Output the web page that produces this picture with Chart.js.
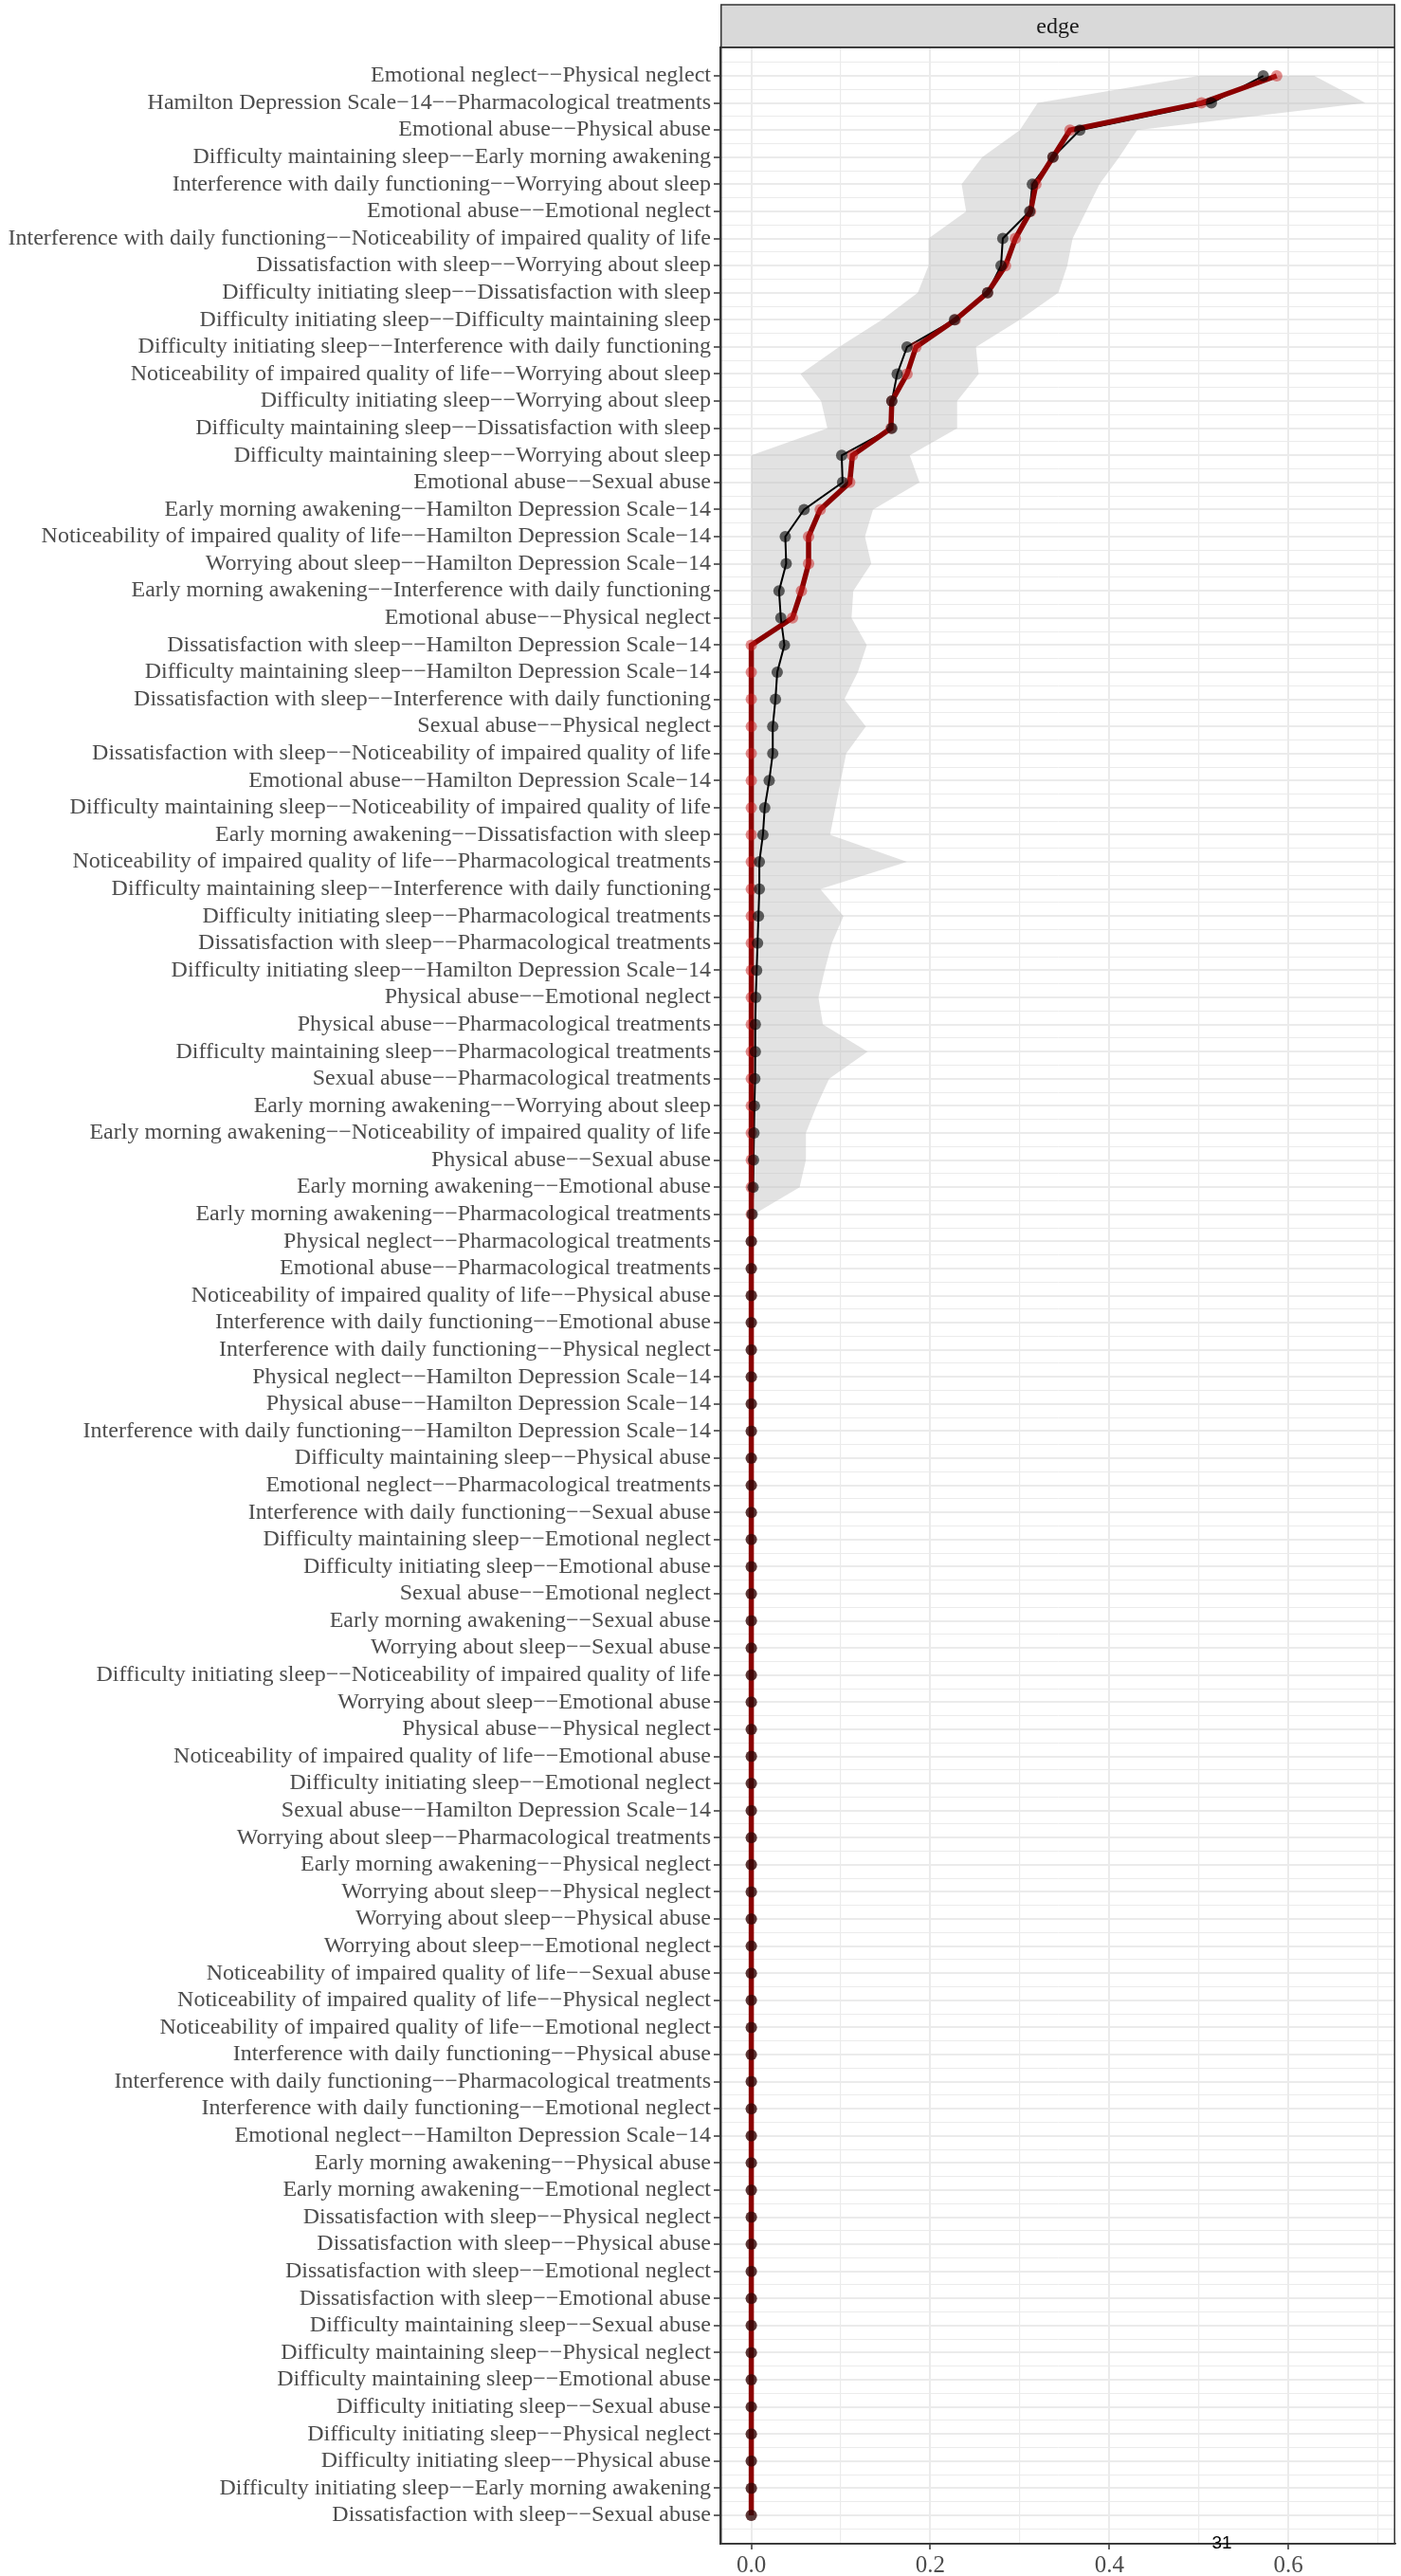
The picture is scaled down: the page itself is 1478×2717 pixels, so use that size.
<!DOCTYPE html>
<html>
<head>
<meta charset="utf-8">
<script src="https://cdn.jsdelivr.net/npm/chart.js@4.4.1/dist/chart.umd.min.js"></script>
<style>
  html, body { margin: 0; padding: 0; background: #ffffff; }
  #wrap { width: 1478px; height: 2717px; }
</style>
</head>
<body>
<div id="wrap"><canvas id="edgeChart" width="1478" height="2717"></canvas></div>
<script>
// edges, sorted by sample weight (top to bottom)
const edgeLabels = [
    'Emotional neglect−−Physical neglect',
    'Hamilton Depression Scale−14−−Pharmacological treatments',
    'Emotional abuse−−Physical abuse',
    'Difficulty maintaining sleep−−Early morning awakening',
    'Interference with daily functioning−−Worrying about sleep',
    'Emotional abuse−−Emotional neglect',
    'Interference with daily functioning−−Noticeability of impaired quality of life',
    'Dissatisfaction with sleep−−Worrying about sleep',
    'Difficulty initiating sleep−−Dissatisfaction with sleep',
    'Difficulty initiating sleep−−Difficulty maintaining sleep',
    'Difficulty initiating sleep−−Interference with daily functioning',
    'Noticeability of impaired quality of life−−Worrying about sleep',
    'Difficulty initiating sleep−−Worrying about sleep',
    'Difficulty maintaining sleep−−Dissatisfaction with sleep',
    'Difficulty maintaining sleep−−Worrying about sleep',
    'Emotional abuse−−Sexual abuse',
    'Early morning awakening−−Hamilton Depression Scale−14',
    'Noticeability of impaired quality of life−−Hamilton Depression Scale−14',
    'Worrying about sleep−−Hamilton Depression Scale−14',
    'Early morning awakening−−Interference with daily functioning',
    'Emotional abuse−−Physical neglect',
    'Dissatisfaction with sleep−−Hamilton Depression Scale−14',
    'Difficulty maintaining sleep−−Hamilton Depression Scale−14',
    'Dissatisfaction with sleep−−Interference with daily functioning',
    'Sexual abuse−−Physical neglect',
    'Dissatisfaction with sleep−−Noticeability of impaired quality of life',
    'Emotional abuse−−Hamilton Depression Scale−14',
    'Difficulty maintaining sleep−−Noticeability of impaired quality of life',
    'Early morning awakening−−Dissatisfaction with sleep',
    'Noticeability of impaired quality of life−−Pharmacological treatments',
    'Difficulty maintaining sleep−−Interference with daily functioning',
    'Difficulty initiating sleep−−Pharmacological treatments',
    'Dissatisfaction with sleep−−Pharmacological treatments',
    'Difficulty initiating sleep−−Hamilton Depression Scale−14',
    'Physical abuse−−Emotional neglect',
    'Physical abuse−−Pharmacological treatments',
    'Difficulty maintaining sleep−−Pharmacological treatments',
    'Sexual abuse−−Pharmacological treatments',
    'Early morning awakening−−Worrying about sleep',
    'Early morning awakening−−Noticeability of impaired quality of life',
    'Physical abuse−−Sexual abuse',
    'Early morning awakening−−Emotional abuse',
    'Early morning awakening−−Pharmacological treatments',
    'Physical neglect−−Pharmacological treatments',
    'Emotional abuse−−Pharmacological treatments',
    'Noticeability of impaired quality of life−−Physical abuse',
    'Interference with daily functioning−−Emotional abuse',
    'Interference with daily functioning−−Physical neglect',
    'Physical neglect−−Hamilton Depression Scale−14',
    'Physical abuse−−Hamilton Depression Scale−14',
    'Interference with daily functioning−−Hamilton Depression Scale−14',
    'Difficulty maintaining sleep−−Physical abuse',
    'Emotional neglect−−Pharmacological treatments',
    'Interference with daily functioning−−Sexual abuse',
    'Difficulty maintaining sleep−−Emotional neglect',
    'Difficulty initiating sleep−−Emotional abuse',
    'Sexual abuse−−Emotional neglect',
    'Early morning awakening−−Sexual abuse',
    'Worrying about sleep−−Sexual abuse',
    'Difficulty initiating sleep−−Noticeability of impaired quality of life',
    'Worrying about sleep−−Emotional abuse',
    'Physical abuse−−Physical neglect',
    'Noticeability of impaired quality of life−−Emotional abuse',
    'Difficulty initiating sleep−−Emotional neglect',
    'Sexual abuse−−Hamilton Depression Scale−14',
    'Worrying about sleep−−Pharmacological treatments',
    'Early morning awakening−−Physical neglect',
    'Worrying about sleep−−Physical neglect',
    'Worrying about sleep−−Physical abuse',
    'Worrying about sleep−−Emotional neglect',
    'Noticeability of impaired quality of life−−Sexual abuse',
    'Noticeability of impaired quality of life−−Physical neglect',
    'Noticeability of impaired quality of life−−Emotional neglect',
    'Interference with daily functioning−−Physical abuse',
    'Interference with daily functioning−−Pharmacological treatments',
    'Interference with daily functioning−−Emotional neglect',
    'Emotional neglect−−Hamilton Depression Scale−14',
    'Early morning awakening−−Physical abuse',
    'Early morning awakening−−Emotional neglect',
    'Dissatisfaction with sleep−−Physical neglect',
    'Dissatisfaction with sleep−−Physical abuse',
    'Dissatisfaction with sleep−−Emotional neglect',
    'Dissatisfaction with sleep−−Emotional abuse',
    'Difficulty maintaining sleep−−Sexual abuse',
    'Difficulty maintaining sleep−−Physical neglect',
    'Difficulty maintaining sleep−−Emotional abuse',
    'Difficulty initiating sleep−−Sexual abuse',
    'Difficulty initiating sleep−−Physical neglect',
    'Difficulty initiating sleep−−Physical abuse',
    'Difficulty initiating sleep−−Early morning awakening',
    'Dissatisfaction with sleep−−Sexual abuse'
];

// sample edge weights (red)
const sampleValues = [
    0.587, 0.503, 0.356, 0.337, 0.318, 0.312, 0.295, 0.284, 0.264, 0.228,
    0.184, 0.174, 0.157, 0.156, 0.113, 0.110, 0.077, 0.064, 0.064, 0.056,
    0.046, 0, 0, 0, 0, 0, 0, 0, 0, 0,
    0, 0, 0, 0, 0, 0, 0, 0, 0, 0,
    0, 0, 0, 0, 0, 0, 0, 0, 0, 0,
    0, 0, 0, 0, 0, 0, 0, 0, 0, 0,
    0, 0, 0, 0, 0, 0, 0, 0, 0, 0,
    0, 0, 0, 0, 0, 0, 0, 0, 0, 0,
    0, 0, 0, 0, 0, 0, 0, 0, 0, 0,
    0
];

// bootstrap means (black)
const bootMeans = [
    0.572, 0.514, 0.367, 0.337, 0.314, 0.311, 0.281, 0.279, 0.264, 0.227,
    0.174, 0.163, 0.157, 0.157, 0.101, 0.102, 0.059, 0.038, 0.039, 0.031,
    0.033, 0.037, 0.029, 0.027, 0.024, 0.024, 0.020, 0.015, 0.013, 0.009,
    0.009, 0.008, 0.007, 0.006, 0.005, 0.0045, 0.0045, 0.004, 0.0035, 0.003,
    0.0025, 0.002, 0.001, 0, 0, 0, 0, 0, 0, 0,
    0, 0, 0, 0, 0, 0, 0, 0, 0, 0,
    0, 0, 0, 0, 0, 0, 0, 0, 0, 0,
    0, 0, 0, 0, 0, 0, 0, 0, 0, 0,
    0, 0, 0, 0, 0, 0, 0, 0, 0, 0,
    0
];

// bootstrapped CI bounds (grey band)
const ciLower = [
    0.500, 0.320, 0.300, 0.258, 0.235, 0.240, 0.198, 0.198, 0.186, 0.146,
    0.098, 0.055, 0.078, 0.085, 0, 0, 0, 0, 0, 0,
    0, 0, 0, 0, 0, 0, 0, 0, 0, 0,
    0, 0, 0, 0, 0, 0, 0, 0, 0, 0,
    0, 0, 0, 0, 0, 0, 0, 0, 0, 0,
    0, 0, 0, 0, 0, 0, 0, 0, 0, 0,
    0, 0, 0, 0, 0, 0, 0, 0, 0, 0,
    0, 0, 0, 0, 0, 0, 0, 0, 0, 0,
    0, 0, 0, 0, 0, 0, 0, 0, 0, 0,
    0
];
const ciUpper = [
    0.629, 0.686, 0.431, 0.411, 0.389, 0.374, 0.359, 0.353, 0.343, 0.300,
    0.251, 0.254, 0.230, 0.230, 0.177, 0.188, 0.136, 0.127, 0.134, 0.114,
    0.112, 0.129, 0.119, 0.104, 0.128, 0.106, 0.100, 0.094, 0.088, 0.174,
    0.077, 0.103, 0.090, 0.082, 0.075, 0.080, 0.130, 0.087, 0.073, 0.061,
    0.061, 0.054, 0.003, 0, 0, 0, 0, 0, 0, 0,
    0, 0, 0, 0, 0, 0, 0, 0, 0, 0,
    0, 0, 0, 0, 0, 0, 0, 0, 0, 0,
    0, 0, 0, 0, 0, 0, 0, 0, 0, 0,
    0, 0, 0, 0, 0, 0, 0, 0, 0, 0,
    0
];

const xTickValues = [0, 0.1, 0.2, 0.3, 0.4, 0.5, 0.6, 0.7];
const xTickLabels = ['0.0', '', '0.2', '', '0.4', '', '0.6', ''];
const stripLabel = 'edge';
const pageNumber = '31';

const GRID = '#ebebeb';
const DARK = '#333333';
const SERIF = '"Liberation Serif", "Times New Roman", serif';

const toPoints = vals => vals.map((v, i) => ({ x: v, y: i }));

// closed polygon: upper bound downwards, lower bound back up
const ribbonPoints = toPoints(ciUpper).concat(toPoints(ciLower).reverse());

const panelDecor = {
    id: 'panelDecor',
    afterDraw(chart) {
        const { ctx, chartArea } = chart;
        const { left, right, top, bottom } = chartArea;
        ctx.save();
        // strip
        ctx.fillStyle = '#d9d9d9';
        ctx.fillRect(left, 5, right - left, top - 5);
        ctx.strokeStyle = DARK;
        ctx.lineWidth = 1.5;
        ctx.strokeRect(left + 0.75, 5, right - left - 1.5, top - 5);
        ctx.fillStyle = '#1a1a1a';
        ctx.font = '24px ' + SERIF;
        ctx.textAlign = 'center';
        ctx.textBaseline = 'middle';
        ctx.fillText(stripLabel, (left + right) / 2, (5 + top) / 2 + 1);
        // panel border
        ctx.strokeRect(left + 0.75, top, right - left - 1.5, bottom - top);
        // stray page number
        ctx.fillStyle = '#000000';
        ctx.font = '19px "Liberation Sans", Arial, sans-serif';
        ctx.fillText(pageNumber, 1289, 2683);
        ctx.restore();
    }
};

new Chart(document.getElementById('edgeChart'), {
    type: 'scatter',
    data: {
        datasets: [
            {
                label: 'Bootstrap mean points',
                data: toPoints(bootMeans),
                backgroundColor: 'rgba(0,0,0,0.6)',
                borderWidth: 0,
                pointRadius: 6,
                showLine: false
            },
            {
                label: 'Sample points',
                data: toPoints(sampleValues),
                backgroundColor: 'rgba(200,30,30,0.5)',
                borderWidth: 0,
                pointRadius: 6,
                showLine: false
            },
            {
                label: 'Sample',
                data: toPoints(sampleValues),
                borderColor: '#8b0000',
                borderWidth: 5.5,
                pointRadius: 0,
                showLine: true,
                tension: 0
            },
            {
                label: 'Bootstrap mean',
                data: toPoints(bootMeans),
                borderColor: '#000000',
                borderWidth: 2,
                pointRadius: 0,
                showLine: true,
                tension: 0
            },
            {
                label: 'CI',
                data: ribbonPoints,
                borderWidth: 0,
                borderColor: 'rgba(0,0,0,0)',
                backgroundColor: 'rgba(190,190,190,0.45)',
                pointRadius: 0,
                showLine: true,
                tension: 0,
                fill: 'shape'
            }
        ]
    },
    options: {
        responsive: false,
        devicePixelRatio: 1,
        animation: false,
        layout: { padding: { top: 50, right: 0, bottom: 0, left: 0 } },
        plugins: {
            legend: { display: false },
            tooltip: { enabled: false }
        },
        scales: {
            x: {
                type: 'linear',
                min: -0.0345,
                max: 0.7195,
                afterBuildTicks: scale => {
                    scale.ticks = xTickValues.map(v => ({ value: v }));
                },
                afterFit: scale => { scale.height = 34; },
                ticks: {
                    autoSkip: false,
                    maxRotation: 0,
                    padding: 2,
                    color: '#4d4d4d',
                    font: { family: SERIF, size: 25 },
                    callback: (value, index) => xTickLabels[index]
                },
                grid: {
                    color: GRID,
                    lineWidth: ctx => (ctx.index % 2 === 0 ? 2 : 1.2),
                    tickLength: 6,
                    tickWidth: 1.5,
                    tickColor: ctx => (ctx.index % 2 === 0 ? DARK : 'rgba(0,0,0,0)')
                },
                border: { display: true, color: DARK, width: 1.5 }
            },
            y: {
                type: 'linear',
                reverse: true,
                min: -1.05,
                max: 91.05,
                afterBuildTicks: scale => {
                    const ticks = [];
                    for (let v = -0.5; v <= edgeLabels.length - 0.5; v += 0.5) ticks.push({ value: v });
                    scale.ticks = ticks;
                },
                afterFit: scale => { scale.width = 760; },
                ticks: {
                    autoSkip: false,
                    padding: 3,
                    color: '#4d4d4d',
                    font: { family: SERIF, size: 24 },
                    callback: value => (Number.isInteger(value) ? edgeLabels[value] : '')
                },
                grid: {
                    color: GRID,
                    lineWidth: ctx => (ctx.tick && Number.isInteger(ctx.tick.value) ? 2 : 1),
                    tickLength: 7,
                    tickWidth: 1.5,
                    tickColor: ctx => (ctx.tick && Number.isInteger(ctx.tick.value) ? DARK : 'rgba(0,0,0,0)')
                },
                border: { display: true, color: DARK, width: 1.5 }
            }
        }
    },
    plugins: [panelDecor]
});
</script>
</body>
</html>
